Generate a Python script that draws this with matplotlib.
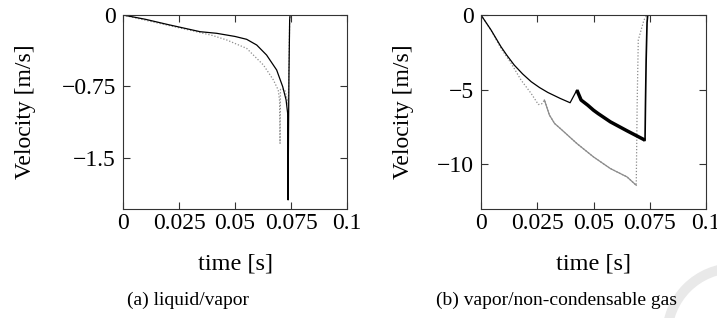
import numpy as np
import matplotlib
matplotlib.use("Agg")
import matplotlib.pyplot as plt
from matplotlib.patches import Circle

plt.rcParams["font.family"] = ["Liberation Serif", "DejaVu Serif"]

# (a) liquid/vapor
a_solid_t = [0.0, 0.0100, 0.0200, 0.0344, 0.0418, 0.0500, 0.0552, 0.0597, 0.0641,
             0.0686, 0.0713, 0.0728, 0.0735, 0.0737, 0.0739, 0.0741, 0.0744, 0.0746]
a_solid_v = [0.0, -0.045, -0.100, -0.175, -0.192, -0.225, -0.255, -0.315, -0.420,
             -0.577, -0.752, -0.890, -1.030, -1.94, -1.20, -0.60, -0.05, 0.0]
a_dot_t = [0.0, 0.0100, 0.0195, 0.0300, 0.0400, 0.0463, 0.0552, 0.0627, 0.0671,
           0.0693, 0.0699, 0.0701, 0.0703, 0.0722, 0.0735, 0.0738, 0.0741, 0.0744, 0.0746]
a_dot_v = [0.0, -0.055, -0.105, -0.160, -0.215, -0.262, -0.350, -0.525, -0.680,
           -0.787, -0.900, -1.346, -0.780, -0.780, -0.900, -0.950, -0.500, -0.050, 0.0]

# (b) vapor/non-condensable gas
b_solid_t = [0.0, 0.00445, 0.0089, 0.0115, 0.0148, 0.0185, 0.0223, 0.0260, 0.0297,
             0.0352, 0.0396, 0.0426]
b_solid_v = [0.0, -1.00, -2.13, -2.70, -3.36, -3.95, -4.47, -4.86, -5.19,
             -5.59, -5.88, -5.03]
b_osc_t = [0.0426, 0.0445, 0.0475, 0.0500, 0.0520, 0.0575, 0.0649, 0.0723, 0.0729]
b_osc_v = [-5.03, -5.70, -6.05, -6.38, -6.60, -7.16, -7.76, -8.34, -8.40]
b_jump_t = [0.0729, 0.0731, 0.0734, 0.0738, 0.0741]
b_jump_v = [-8.40, -6.00, -3.00, -0.50, 0.0]
b_dot_t = [0.0, 0.00445, 0.0089, 0.0134, 0.0178, 0.0223, 0.0255, 0.0270, 0.0282, 0.0304,
           0.0327, 0.0352, 0.0426, 0.0500, 0.0575, 0.0649, 0.0690, 0.0694, 0.0699,
           0.0724, 0.0738]
b_dot_v = [0.0, -1.02, -2.24, -3.24, -4.36, -5.26, -6.00, -5.95, -5.70, -6.70,
           -7.27, -7.60, -8.61, -9.51, -10.29, -10.85, -11.41, -6.00, -1.68,
           -0.34, 0.0]

xticks = [0, 0.025, 0.05, 0.075, 0.1]
xtick_labels = ["0", "0.025", "0.05", "0.075", "0.1"]
a_yticks = [0, -0.75, -1.5]
a_ytick_labels = ["0", "\u22120.75", "\u22121.5"]
b_yticks = [0, -5, -10]
b_ytick_labels = ["0", "\u22125", "\u221210"]

W, H = 717, 318
fig = plt.figure(figsize=(W / 100, H / 100), dpi=100)

ax_a = fig.add_axes([123 / W, 1 - 209 / H, 224 / W, 194 / H])
ax_b = fig.add_axes([481 / W, 1 - 209 / H, 225 / W, 194 / H])

gray = "#8c8c8c"

ax_a.plot(a_dot_t, a_dot_v, color=gray, lw=0.9, ls=(0, (1, 1.5)))
ax_a.plot(a_solid_t, a_solid_v, color="black", lw=0.9)
ax_a.set_ylim(-2.035, 0)

ax_b.plot(b_dot_t, b_dot_v, color=gray, lw=0.9, ls=(0, (1, 1.5)))
# noisy part of the gray curve reads as a thin solid line
ax_b.plot(b_dot_t[8:17], b_dot_v[8:17], color=gray, lw=0.9)
ax_b.plot(b_solid_t, b_solid_v, color="black", lw=0.9)
ax_b.plot(b_osc_t, b_osc_v, color="black", lw=2.5, solid_capstyle="butt")
ax_b.plot(b_jump_t, b_jump_v, color="black", lw=1.2)
ax_b.set_ylim(-13, 0)

for ax, yt, ylab, ylx in [(ax_a, a_yticks, a_ytick_labels, (25 - 123) / 224),
                          (ax_b, b_yticks, b_ytick_labels, (403 - 481) / 225)]:
    ax.set_xlim(0, 0.1)
    ax.set_xticks(xticks)
    ax.set_xticklabels(xtick_labels)
    ax.set_yticks(yt)
    ax.set_yticklabels(ylab)
    ax.tick_params(direction="in", top=True, right=True, length=5, width=0.8,
                   labelsize=17, color="#333333")
    ax.tick_params(axis="x", pad=3)
    ax.tick_params(axis="y", pad=5)
    for sp in ax.spines.values():
        sp.set_linewidth(0.8)
        sp.set_color("#333333")
    ax.set_xlabel("time [s]", fontsize=17.5)
    ax.set_ylabel("Velocity [m/s]", fontsize=17)
    ax.xaxis.label.set_va("center")
    ax.yaxis.label.set_va("center")
    ax.xaxis.set_label_coords(0.5, (209 - 264) / 194)
    ax.yaxis.set_label_coords(ylx, 0.5)

fig.text(188 / W, 1 - 300 / H, "(a) liquid/vapor", ha="center", va="center", fontsize=14)
fig.text(556 / W, 1 - 300 / H, "(b) vapor/non-condensable gas", ha="center", va="center",
         fontsize=14)

# faint watermark arc in the lower right corner
fig.add_artist(Circle((735 / 100, (H - 336) / 100), 0.68, transform=fig.dpi_scale_trans,
                      fill=False, lw=7.2, color="#e9e9e9", zorder=-1))

fig.savefig("out.png", dpi=100)
